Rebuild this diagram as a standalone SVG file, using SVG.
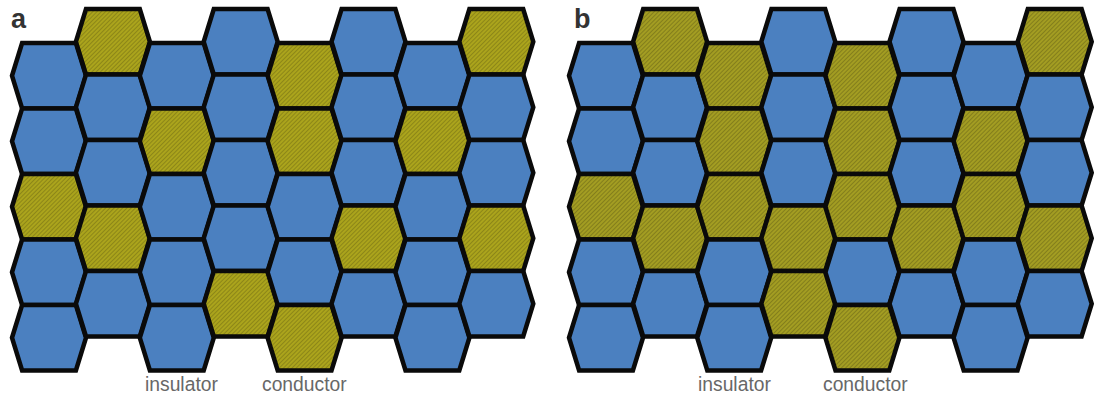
<svg xmlns="http://www.w3.org/2000/svg" xmlns:xlink="http://www.w3.org/1999/xlink" width="1094" height="395" viewBox="0 0 1094 395">
<style>
.h{stroke:#0a0a0a;stroke-width:4.5;stroke-linejoin:miter}
.B{fill:#4b80c0}
.Y{fill:url(#hatchA)}
.Yb{fill:url(#hatchB)}
.lbl{font-family:"Liberation Sans",Arial,Helvetica,sans-serif;font-size:19.3px;fill:#686868}
.pl{font-family:"Liberation Sans",Arial,Helvetica,sans-serif;font-size:27px;font-weight:bold;fill:#333}
</style>
<defs>
<path id="hx" d="M-37,0 L-26.9,-32.75 L26.9,-32.75 L37,0 L26.9,32.75 L-26.9,32.75 Z"/>
<pattern id="hatchA" width="3" height="3" patternUnits="userSpaceOnUse" patternTransform="rotate(45)">
<rect width="3" height="3" fill="#aba41c"/>
<rect width="1" height="3" fill="#8c8618"/>
</pattern>
<pattern id="hatchB" width="3" height="3" patternUnits="userSpaceOnUse" patternTransform="rotate(45)">
<rect width="3" height="3" fill="#a39d22"/>
<rect width="1" height="3" fill="#837e1c"/>
</pattern>
</defs>
<rect width="1094" height="395" fill="#ffffff"/>
<text class="pl" x="11" y="28">a</text>
<text class="pl" x="574" y="28">b</text>
<g id="panel-a">
<g id="a-c1r1"><use href="#hx" class="h B" x="49" y="75.75"/></g>
<g id="a-c1r2"><use href="#hx" class="h B" x="49" y="141.25"/></g>
<g id="a-c1r3"><use href="#hx" class="h Y" x="49" y="206.75"/></g>
<g id="a-c1r4"><use href="#hx" class="h B" x="49" y="272.25"/></g>
<g id="a-c1r5"><use href="#hx" class="h B" x="49" y="337.75"/></g>
<g id="a-c2r1"><use href="#hx" class="h Y" x="112.9" y="41.75"/></g>
<g id="a-c2r2"><use href="#hx" class="h B" x="112.9" y="107.25"/></g>
<g id="a-c2r3"><use href="#hx" class="h B" x="112.9" y="172.75"/></g>
<g id="a-c2r4"><use href="#hx" class="h Y" x="112.9" y="238.25"/></g>
<g id="a-c2r5"><use href="#hx" class="h B" x="112.9" y="303.75"/></g>
<g id="a-c3r1"><use href="#hx" class="h B" x="176.8" y="75.75"/></g>
<g id="a-c3r2"><use href="#hx" class="h Y" x="176.8" y="141.25"/></g>
<g id="a-c3r3"><use href="#hx" class="h B" x="176.8" y="206.75"/></g>
<g id="a-c3r4"><use href="#hx" class="h B" x="176.8" y="272.25"/></g>
<g id="a-c3r5"><use href="#hx" class="h B" x="176.8" y="337.75"/></g>
<g id="a-c4r1"><use href="#hx" class="h B" x="240.7" y="41.75"/></g>
<g id="a-c4r2"><use href="#hx" class="h B" x="240.7" y="107.25"/></g>
<g id="a-c4r3"><use href="#hx" class="h B" x="240.7" y="172.75"/></g>
<g id="a-c4r4"><use href="#hx" class="h B" x="240.7" y="238.25"/></g>
<g id="a-c4r5"><use href="#hx" class="h Y" x="240.7" y="303.75"/></g>
<g id="a-c5r1"><use href="#hx" class="h Y" x="304.6" y="75.75"/></g>
<g id="a-c5r2"><use href="#hx" class="h Y" x="304.6" y="141.25"/></g>
<g id="a-c5r3"><use href="#hx" class="h B" x="304.6" y="206.75"/></g>
<g id="a-c5r4"><use href="#hx" class="h B" x="304.6" y="272.25"/></g>
<g id="a-c5r5"><use href="#hx" class="h Y" x="304.6" y="337.75"/></g>
<g id="a-c6r1"><use href="#hx" class="h B" x="368.5" y="41.75"/></g>
<g id="a-c6r2"><use href="#hx" class="h B" x="368.5" y="107.25"/></g>
<g id="a-c6r3"><use href="#hx" class="h B" x="368.5" y="172.75"/></g>
<g id="a-c6r4"><use href="#hx" class="h Y" x="368.5" y="238.25"/></g>
<g id="a-c6r5"><use href="#hx" class="h B" x="368.5" y="303.75"/></g>
<g id="a-c7r1"><use href="#hx" class="h B" x="432.4" y="75.75"/></g>
<g id="a-c7r2"><use href="#hx" class="h Y" x="432.4" y="141.25"/></g>
<g id="a-c7r3"><use href="#hx" class="h B" x="432.4" y="206.75"/></g>
<g id="a-c7r4"><use href="#hx" class="h B" x="432.4" y="272.25"/></g>
<g id="a-c7r5"><use href="#hx" class="h B" x="432.4" y="337.75"/></g>
<g id="a-c8r1"><use href="#hx" class="h Y" x="496.3" y="41.75"/></g>
<g id="a-c8r2"><use href="#hx" class="h B" x="496.3" y="107.25"/></g>
<g id="a-c8r3"><use href="#hx" class="h B" x="496.3" y="172.75"/></g>
<g id="a-c8r4"><use href="#hx" class="h Y" x="496.3" y="238.25"/></g>
<g id="a-c8r5"><use href="#hx" class="h B" x="496.3" y="303.75"/></g>
<g id="a-label-insulator"><text class="lbl" x="145" y="391">insulator</text></g>
<g id="a-label-conductor"><text class="lbl" x="262" y="391">conductor</text></g>
</g>
<g id="panel-b">
<g id="b-c1r1"><use href="#hx" class="h B" x="606" y="75.75"/></g>
<g id="b-c1r2"><use href="#hx" class="h B" x="606" y="141.25"/></g>
<g id="b-c1r3"><use href="#hx" class="h Yb" x="606" y="206.75"/></g>
<g id="b-c1r4"><use href="#hx" class="h B" x="606" y="272.25"/></g>
<g id="b-c1r5"><use href="#hx" class="h B" x="606" y="337.75"/></g>
<g id="b-c2r1"><use href="#hx" class="h Yb" x="670.1" y="41.75"/></g>
<g id="b-c2r2"><use href="#hx" class="h B" x="670.1" y="107.25"/></g>
<g id="b-c2r3"><use href="#hx" class="h B" x="670.1" y="172.75"/></g>
<g id="b-c2r4"><use href="#hx" class="h Yb" x="670.1" y="238.25"/></g>
<g id="b-c2r5"><use href="#hx" class="h B" x="670.1" y="303.75"/></g>
<g id="b-c3r1"><use href="#hx" class="h Yb" x="734.2" y="75.75"/></g>
<g id="b-c3r2"><use href="#hx" class="h Yb" x="734.2" y="141.25"/></g>
<g id="b-c3r3"><use href="#hx" class="h Yb" x="734.2" y="206.75"/></g>
<g id="b-c3r4"><use href="#hx" class="h B" x="734.2" y="272.25"/></g>
<g id="b-c3r5"><use href="#hx" class="h B" x="734.2" y="337.75"/></g>
<g id="b-c4r1"><use href="#hx" class="h B" x="798.3" y="41.75"/></g>
<g id="b-c4r2"><use href="#hx" class="h B" x="798.3" y="107.25"/></g>
<g id="b-c4r3"><use href="#hx" class="h B" x="798.3" y="172.75"/></g>
<g id="b-c4r4"><use href="#hx" class="h Yb" x="798.3" y="238.25"/></g>
<g id="b-c4r5"><use href="#hx" class="h Yb" x="798.3" y="303.75"/></g>
<g id="b-c5r1"><use href="#hx" class="h Yb" x="862.4" y="75.75"/></g>
<g id="b-c5r2"><use href="#hx" class="h Yb" x="862.4" y="141.25"/></g>
<g id="b-c5r3"><use href="#hx" class="h Yb" x="862.4" y="206.75"/></g>
<g id="b-c5r4"><use href="#hx" class="h B" x="862.4" y="272.25"/></g>
<g id="b-c5r5"><use href="#hx" class="h Yb" x="862.4" y="337.75"/></g>
<g id="b-c6r1"><use href="#hx" class="h B" x="926.5" y="41.75"/></g>
<g id="b-c6r2"><use href="#hx" class="h B" x="926.5" y="107.25"/></g>
<g id="b-c6r3"><use href="#hx" class="h B" x="926.5" y="172.75"/></g>
<g id="b-c6r4"><use href="#hx" class="h Yb" x="926.5" y="238.25"/></g>
<g id="b-c6r5"><use href="#hx" class="h B" x="926.5" y="303.75"/></g>
<g id="b-c7r1"><use href="#hx" class="h B" x="990.6" y="75.75"/></g>
<g id="b-c7r2"><use href="#hx" class="h Yb" x="990.6" y="141.25"/></g>
<g id="b-c7r3"><use href="#hx" class="h Yb" x="990.6" y="206.75"/></g>
<g id="b-c7r4"><use href="#hx" class="h B" x="990.6" y="272.25"/></g>
<g id="b-c7r5"><use href="#hx" class="h B" x="990.6" y="337.75"/></g>
<g id="b-c8r1"><use href="#hx" class="h Yb" x="1054.7" y="41.75"/></g>
<g id="b-c8r2"><use href="#hx" class="h B" x="1054.7" y="107.25"/></g>
<g id="b-c8r3"><use href="#hx" class="h B" x="1054.7" y="172.75"/></g>
<g id="b-c8r4"><use href="#hx" class="h Yb" x="1054.7" y="238.25"/></g>
<g id="b-c8r5"><use href="#hx" class="h B" x="1054.7" y="303.75"/></g>
<g id="b-label-insulator"><text class="lbl" x="698" y="391">insulator</text></g>
<g id="b-label-conductor"><text class="lbl" x="823" y="391">conductor</text></g>
</g>
</svg>
